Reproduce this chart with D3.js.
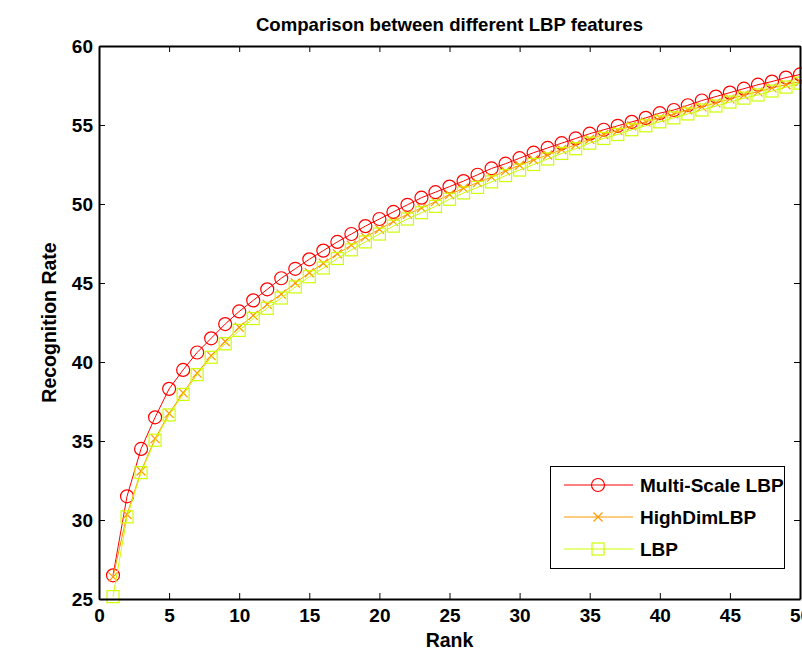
<!DOCTYPE html>
<html><head><meta charset="utf-8">
<script src="https://cdn.jsdelivr.net/npm/d3@7"></script>
<style>body{margin:0;background:#fff;} svg{display:block;font-family:"Liberation Sans",Arial,sans-serif;}</style>
</head><body>
<script>
const ranks = d3.range(1, 51);
const multiScaleLBP = [26.5,31.5,34.5,36.5,38.3,39.5,40.6,41.5,42.4,43.2,43.9,44.6,45.3,45.9,46.5,47.05,47.6,48.1,48.6,49.05,49.5,49.95,50.4,50.75,51.1,51.45,51.85,52.25,52.55,52.9,53.25,53.55,53.85,54.15,54.45,54.7,54.95,55.2,55.45,55.75,55.95,56.25,56.55,56.8,57.05,57.3,57.55,57.75,58.0,58.2];
const highDimLBP = [26.4,30.35,33.1,35.15,36.75,38.05,39.3,40.4,41.3,42.2,42.95,43.65,44.3,45.0,45.65,46.25,46.85,47.4,47.9,48.4,48.9,49.35,49.75,50.15,50.6,51.0,51.35,51.7,52.1,52.45,52.8,53.1,53.45,53.75,54.1,54.4,54.65,54.95,55.2,55.45,55.7,55.95,56.15,56.4,56.65,56.9,57.1,57.35,57.55,57.75];
const lbp = [25.15,30.2,33.0,35.05,36.65,37.95,39.2,40.3,41.15,42.0,42.75,43.4,44.05,44.75,45.4,45.95,46.55,47.1,47.6,48.1,48.6,49.05,49.45,49.85,50.3,50.7,51.05,51.4,51.8,52.15,52.5,52.85,53.2,53.5,53.85,54.15,54.4,54.7,54.95,55.2,55.45,55.7,55.95,56.2,56.45,56.7,56.9,57.15,57.4,57.65];
const seriesNames = ["Multi-Scale LBP","HighDimLBP","LBP"];
const xTicks = [0,5,10,15,20,25,30,35,40,45,50];
const yTicks = [25,30,35,40,45,50,55,60];

const W=802,H=651;
const m={l:99,r:2,t:46,b:52};
const svg=d3.select("body").append("svg").attr("width",W).attr("height",H);
const x=d3.scaleLinear().domain([0,50]).range([m.l,W-m.r]);
const y=d3.scaleLinear().domain([25,60]).range([H-m.b,m.t]);

const series=[
 {name:seriesNames[0],vals:multiScaleLBP,color:"#ff0000",marker:"circle"},
 {name:seriesNames[1],vals:highDimLBP,color:"#ff9900",marker:"x"},
 {name:seriesNames[2],vals:lbp,color:"#ccff00",marker:"square"}
];

const plot=svg.append("g");
const line=d3.line().x((d,i)=>x(ranks[i])).y(d=>y(d));
function drawMarker(g,type,cx,cy,color){
  if(type==="circle") g.append("circle").attr("cx",cx).attr("cy",cy).attr("r",6.5).attr("fill","none").attr("stroke",color).attr("stroke-width",1.2);
  else if(type==="square") g.append("rect").attr("x",cx-6).attr("y",cy-6).attr("width",12).attr("height",12).attr("fill","none").attr("stroke",color).attr("stroke-width",1.2);
  else { const s=4.5; g.append("path").attr("d",`M${cx-s},${cy-s}L${cx+s},${cy+s}M${cx-s},${cy+s}L${cx+s},${cy-s}`).attr("stroke",color).attr("stroke-width",1.2).attr("fill","none"); }
}
series.forEach(s=>{
  const g=plot.append("g");
  g.append("path").datum(s.vals).attr("d",line).attr("fill","none").attr("stroke",s.color).attr("stroke-width",1);
  s.vals.forEach((v,i)=>drawMarker(g,s.marker,x(ranks[i]),y(v),s.color));
});

// axes box
const ax=svg.append("g");
const axBottom=d3.axisBottom(x).tickValues(xTicks).tickSizeInner(-6).tickSizeOuter(0).tickPadding(10);
const axLeft=d3.axisLeft(y).tickValues(yTicks).tickSizeInner(-6).tickSizeOuter(0).tickPadding(6);
const axTop=d3.axisTop(x).tickValues(xTicks).tickSizeInner(-6).tickSizeOuter(0).tickFormat("");
const axRight=d3.axisRight(y).tickValues(yTicks).tickSizeInner(-6).tickSizeOuter(0).tickFormat("");
const gb=ax.append("g").attr("transform",`translate(0,${H-m.b})`).call(axBottom);
const gl=ax.append("g").attr("transform",`translate(${m.l},0)`).call(axLeft);
ax.append("g").attr("transform",`translate(0,${m.t})`).call(axTop);
ax.append("g").attr("transform",`translate(${W-m.r},0)`).call(axRight);
ax.selectAll(".domain").attr("stroke","#000").attr("stroke-width",2);
ax.selectAll(".tick line").attr("stroke","#000").attr("stroke-width",1);
ax.selectAll(".tick text").attr("fill","#000").attr("font-size",19).attr("font-weight","bold").attr("font-family","Liberation Sans, Arial, sans-serif");

svg.append("text").attr("x",(m.l+W-m.r)/2).attr("y",30.5).attr("text-anchor","middle").attr("font-size",18.6).attr("font-weight","bold").text("Comparison between different LBP features");
svg.append("text").attr("x",(m.l+W-m.r)/2).attr("y",647).attr("text-anchor","middle").attr("font-size",19.5).attr("font-weight","bold").text("Rank");
svg.append("text").attr("transform",`translate(56,${(m.t+H-m.b)/2}) rotate(-90)`).attr("text-anchor","middle").attr("font-size",19.5).attr("font-weight","bold").text("Recognition Rate");

// legend
const lg=svg.append("g");
lg.append("rect").attr("x",550.5).attr("y",466.5).attr("width",234).attr("height",102).attr("fill","#fff").attr("stroke","#000").attr("stroke-width",1);
series.forEach((s,i)=>{
  const yy=485+i*32;
  lg.append("line").attr("x1",564).attr("x2",633).attr("y1",yy).attr("y2",yy).attr("stroke",s.color).attr("stroke-width",1);
  drawMarker(lg,s.marker,598,yy,s.color);
  lg.append("text").attr("x",640).attr("y",yy).attr("dy","0.36em").attr("font-size",19).attr("font-weight","bold").text(s.name);
});
</script>
</body></html>
